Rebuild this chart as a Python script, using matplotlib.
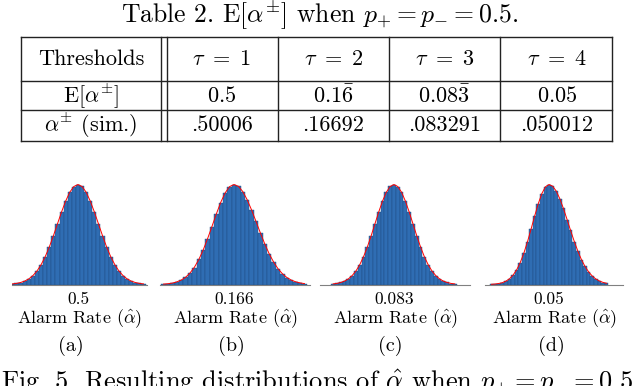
import numpy as np
import matplotlib
matplotlib.use("Agg")
import matplotlib.pyplot as plt

plt.rcParams['font.family'] = ['cmr10', 'DejaVu Serif']
plt.rcParams['mathtext.fontset'] = 'cm'
plt.rcParams['axes.unicode_minus'] = False

# 表格数据
title = r"Table 2. E$[\alpha^{\pm}]$ when $p_{+} = p_{-} = 0.5$."
col_header = "Thresholds"
taus = [r"$\tau\ =\ 1$", r"$\tau\ =\ 2$", r"$\tau\ =\ 3$", r"$\tau\ =\ 4$"]
row_names = [r"E$[\alpha^{\pm}]$", r"$\alpha^{\pm}$ (sim.)"]
expected = [r"$0.5$", r"$0.1\bar{6}$", r"$0.08\bar{3}$", r"$0.05$"]
simulated = [".50006", ".16692", ".083291", ".050012"]

# 直方图数据 (标准化后的 alarm rate, 峰值归一)
centers = ["0.5", "0.166", "0.083", "0.05"]
sublabels = ["(a)", "(b)", "(c)", "(d)"]
z = np.arange(-3.2, 3.21, 0.2)

hist_a = [0.007, 0.012, 0.019, 0.035, 0.055, 0.090, 0.137, 0.196, 0.280, 0.372, 0.489,
          0.605, 0.728, 0.832, 0.925, 0.978, 1.000, 0.982, 0.921, 0.837, 0.724, 0.609,
          0.485, 0.377, 0.276, 0.199, 0.134, 0.090, 0.055, 0.035, 0.019, 0.012, 0.006]
fit_a = [0.006, 0.011, 0.020, 0.034, 0.056, 0.089, 0.135, 0.198, 0.278, 0.375, 0.487,
         0.607, 0.726, 0.835, 0.923, 0.980, 1.000, 0.980, 0.923, 0.835, 0.726, 0.607,
         0.487, 0.375, 0.278, 0.198, 0.135, 0.089, 0.056, 0.034, 0.020, 0.011, 0.006]

hist_b = [0.004, 0.008, 0.015, 0.025, 0.045, 0.073, 0.116, 0.170, 0.251, 0.343, 0.460,
          0.579, 0.709, 0.820, 0.919, 0.977, 1.000, 0.984, 0.927, 0.849, 0.742, 0.632,
          0.512, 0.406, 0.304, 0.226, 0.155, 0.108, 0.069, 0.045, 0.026, 0.017, 0.009]
fit_b = [0.004, 0.008, 0.014, 0.026, 0.044, 0.072, 0.114, 0.172, 0.249, 0.345, 0.458,
         0.581, 0.707, 0.823, 0.917, 0.979, 1.000, 0.982, 0.929, 0.847, 0.744, 0.630,
         0.514, 0.404, 0.306, 0.224, 0.157, 0.107, 0.070, 0.044, 0.027, 0.016, 0.009]

hist_c = [0.005, 0.012, 0.021, 0.033, 0.057, 0.088, 0.136, 0.199, 0.276, 0.377, 0.485,
          0.609, 0.724, 0.838, 0.921, 0.982, 1.000, 0.978, 0.925, 0.833, 0.728, 0.604,
          0.489, 0.373, 0.280, 0.196, 0.136, 0.088, 0.057, 0.033, 0.021, 0.010, 0.007]
fit_c = fit_a

hist_d = [0.003, 0.005, 0.010, 0.019, 0.032, 0.058, 0.093, 0.148, 0.219, 0.316, 0.425,
          0.556, 0.683, 0.810, 0.908, 0.979, 1.000, 0.981, 0.936, 0.855, 0.762, 0.649,
          0.541, 0.430, 0.336, 0.247, 0.181, 0.125, 0.086, 0.054, 0.036, 0.020, 0.012]
fit_d = [0.002, 0.005, 0.010, 0.018, 0.033, 0.057, 0.094, 0.147, 0.220, 0.314, 0.427,
         0.554, 0.685, 0.808, 0.910, 0.977, 1.000, 0.983, 0.934, 0.857, 0.760, 0.651,
         0.539, 0.432, 0.334, 0.249, 0.180, 0.126, 0.085, 0.055, 0.035, 0.021, 0.012]

hists = [hist_a, hist_b, hist_c, hist_d]
fits = [fit_a, fit_b, fit_c, fit_d]

W, H = 640, 386
fig = plt.figure(figsize=(6.4, 3.86), dpi=100)

# 1 表格
tab = fig.add_axes([0, 0, 1, 1])
tab.set_xlim(0, W)
tab.set_ylim(H, 0)
tab.axis('off')

xs = [20.5, 161, 166.5, 278, 389, 500, 612]
ys = [37, 81, 110, 141]
for y in ys:
    tab.plot([xs[0], xs[-1]], [y, y], color='#222222', lw=1.0)
for x in xs:
    tab.plot([x, x], [ys[0], ys[-1]], color='#222222', lw=1.0)

tab.text(W / 2, 15.5, title, ha='center', va='center', fontsize=18.5)
col_x = [91, 222, 333.5, 444.5, 557]
row_y = [59, 95.5, 125.5]
fs = 16
tab.text(col_x[0], row_y[0], col_header, ha='center', va='center', fontsize=fs)
for i in range(4):
    tab.text(col_x[i + 1], row_y[0], taus[i], ha='center', va='center', fontsize=fs)
    tab.text(col_x[i + 1], row_y[1], expected[i], ha='center', va='center', fontsize=fs)
    tab.text(col_x[i + 1], row_y[2], simulated[i], ha='center', va='center', fontsize=fs)
tab.text(col_x[0], row_y[1], row_names[0], ha='center', va='center', fontsize=fs)
tab.text(col_x[0], row_y[2], row_names[1], ha='center', va='center', fontsize=fs)

# 2 直方图
lefts = [12, 160, 320, 485]
widths = [135, 150, 150, 138]
xlims = [(-3.22, 3.37), (-3.36, 3.45), (-3.89, 4.0), (-3.56, 4.11)]
base = 284.5
for i in range(4):
    ax = fig.add_axes([lefts[i] / W, (H - base) / H, widths[i] / W, 102 / H])
    ax.bar(z, hists[i], width=0.2, color='#2f6db3', edgecolor='#1d4a80', linewidth=0.3)
    ax.plot(z, fits[i], color='red', lw=0.7)
    ax.set_xlim(*xlims[i])
    ax.set_ylim(0, 1.02)
    for s in ['top', 'left', 'right']:
        ax.spines[s].set_visible(False)
    ax.spines['bottom'].set_color('#808080')
    ax.spines['bottom'].set_linewidth(0.8)
    ax.set_yticks([])
    ax.set_xticks([0])
    ax.set_xticklabels([centers[i]], fontsize=12.5)
    ax.tick_params(axis='x', length=0, pad=5)
    ax.set_xlabel(r"Alarm Rate ($\hat{\alpha}$)", fontsize=13, labelpad=0)
    ax.patch.set_alpha(0)

sub_x = [71, 231, 390, 551]
for i in range(4):
    tab.text(sub_x[i], 346, sublabels[i], ha='center', va='center', fontsize=14.5)

tab.text(1, 389, r"Fig. 5. Resulting distributions of $\hat{\alpha}$ when $p_{+} = p_{-} = 0.5$",
         ha='left', va='baseline', fontsize=19)

plt.savefig("out.png", dpi=100)
